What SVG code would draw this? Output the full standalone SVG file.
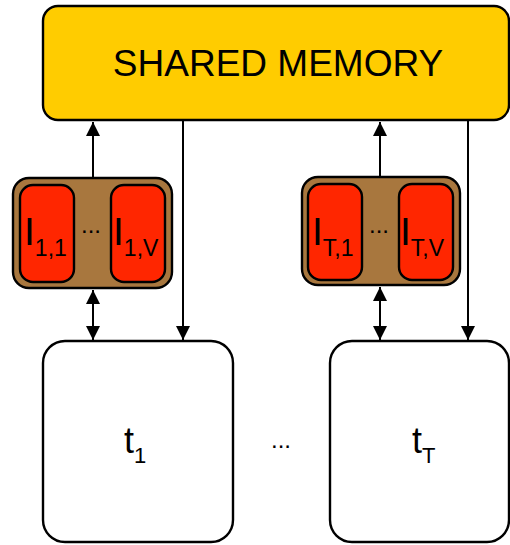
<svg xmlns="http://www.w3.org/2000/svg" width="510" height="545" viewBox="0 0 510 545">
  <defs>
    <style>
      .box { stroke: #000; stroke-width: 2.4; }
      .mem { fill: #FFCC00; }
      .grp { fill: #A8773E; }
      .reg { fill: #FF2600; }
      .thr { fill: #FFFFFF; }
      .lbl { font-family: "Liberation Sans", Arial, sans-serif; fill: #000; }
      .wire { stroke: #000; stroke-width: 2; fill: none; }
    </style>
    <marker id="ah" viewBox="0 0 14 14" refX="14" refY="7" markerWidth="14" markerHeight="14" markerUnits="userSpaceOnUse" orient="auto-start-reverse">
      <path d="M0,0 L14,7 L0,14 Z" fill="#000"/>
    </marker>
  </defs>

  <g id="connectors">
    <!-- register groups write up to shared memory -->
    <line class="wire" x1="93" y1="178" x2="93" y2="122" marker-end="url(#ah)"/>
    <line class="wire" x1="380" y1="177" x2="380" y2="122" marker-end="url(#ah)"/>
    <!-- shared memory reads down to threads -->
    <line class="wire" x1="183" y1="120" x2="183" y2="340" marker-end="url(#ah)"/>
    <line class="wire" x1="468" y1="120" x2="468" y2="340" marker-end="url(#ah)"/>
    <!-- registers <-> threads -->
    <line class="wire" x1="93" y1="290" x2="93" y2="340" marker-start="url(#ah)" marker-end="url(#ah)"/>
    <line class="wire" x1="380" y1="287" x2="380" y2="340" marker-start="url(#ah)" marker-end="url(#ah)"/>
  </g>

  <g id="shared-memory">
    <rect class="box mem" x="43" y="6" width="466" height="114" rx="15"/>
    <text class="lbl" x="278" y="76" font-size="37" text-anchor="middle">SHARED MEMORY</text>
  </g>

  <g id="registers-1">
    <rect class="box grp" x="13" y="178" width="159" height="110" rx="16"/>
    <rect class="box reg" x="20" y="185" width="54" height="97" rx="13"/>
    <rect class="box reg" x="111" y="185" width="54" height="97" rx="13"/>
    <text class="lbl" x="24" y="245" font-size="39">I<tspan font-size="23" dy="11">1,1</tspan></text>
    <text class="lbl" x="81" y="233" font-size="24">...</text>
    <text class="lbl" x="113" y="245" font-size="39">I<tspan font-size="23" dy="11">1,V</tspan></text>
  </g>

  <g id="registers-T">
    <rect class="box grp" x="302" y="177" width="158" height="108" rx="16"/>
    <rect class="box reg" x="308" y="184" width="54" height="96" rx="13"/>
    <rect class="box reg" x="399" y="184" width="54" height="96" rx="13"/>
    <text class="lbl" x="312" y="245" font-size="39">I<tspan font-size="23" dy="11">T,1</tspan></text>
    <text class="lbl" x="369" y="233" font-size="24">...</text>
    <text class="lbl" x="400" y="245" font-size="39">I<tspan font-size="23" dy="11">T,V</tspan></text>
  </g>

  <g id="thread-1">
    <rect class="box thr" x="43" y="341" width="190" height="201" rx="22"/>
    <text class="lbl" x="124" y="453" font-size="36">t<tspan font-size="22" dy="10">1</tspan></text>
  </g>

  <text class="lbl" x="271" y="448" font-size="24">...</text>

  <g id="thread-T">
    <rect class="box thr" x="330" y="341" width="179" height="201" rx="22"/>
    <text class="lbl" x="412" y="453" font-size="36">t<tspan font-size="22" dy="10">T</tspan></text>
  </g>
</svg>
